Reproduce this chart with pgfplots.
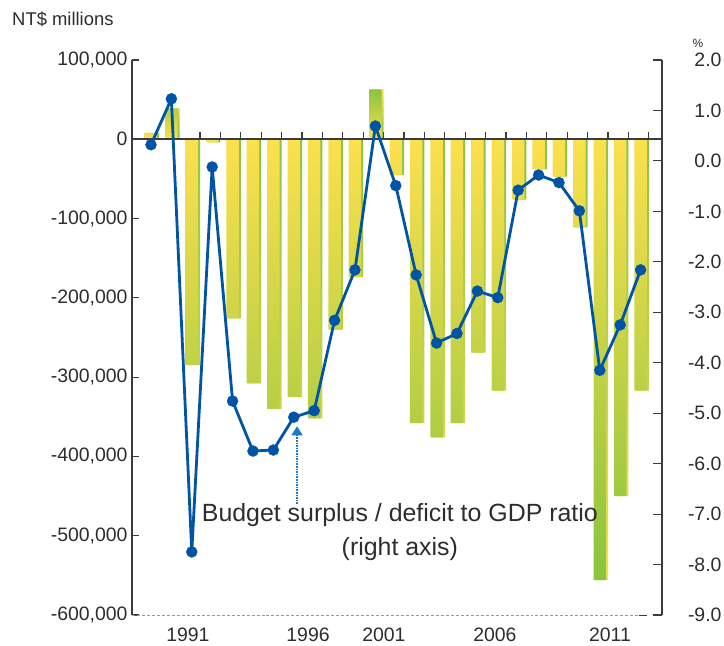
\documentclass[border=0pt]{standalone}
\usepackage{fontspec}
\setmainfont{Liberation Sans}
\usepackage{pgfplots}
\usepackage{pgfplotstable}
\pgfplotsset{compat=1.18}
\usetikzlibrary{arrows.meta}

\definecolor{barYellow}{RGB}{252,224,78}
\definecolor{barGreen}{RGB}{137,196,62}
\definecolor{lineBlue}{RGB}{0,84,166}
\definecolor{arrowBlue}{RGB}{30,120,195}
\definecolor{txt}{RGB}{45,45,45}
\definecolor{spine}{RGB}{60,60,60}

% budget balance, NT$ millions (index 0 = 1989)
\pgfplotstableread{
idx value
0 8000
1 39000
11 63000
}\surplus
\pgfplotstableread{
idx value
2 -285000
3 -4000
4 -226000
5 -308000
6 -340000
7 -325000
8 -352000
9 -240000
10 -174000
12 -45000
13 -358000
14 -376000
15 -358000
16 -269000
17 -317000
18 -76000
19 -38000
20 -47000
21 -111000
22 -556000
23 -450000
24 -317000
}\deficit
% balance to GDP ratio, %
\pgfplotstableread{
idx ratio
0 0.32
1 1.23
2 -7.75
3 -0.12
4 -4.76
5 -5.75
6 -5.73
7 -5.08
8 -4.95
9 -3.16
10 -2.16
11 0.69
12 -0.49
13 -2.26
14 -3.61
15 -3.42
16 -2.58
17 -2.71
18 -0.58
19 -0.28
20 -0.43
21 -0.99
22 -4.15
23 -3.25
24 -2.16
}\ratio

\pgfplotsset{
  base/.style={
    width=530bp, height=555bp, scale only axis,
    xmin=-0.93, xmax=25.05,
    tick label style={font=\fontsize{19.5}{22}\selectfont, text=txt},
    tick align=inside, major tick length=7bp,
  },
  mainbar/.style={ybar, bar width=12.5bp, bar shift=0pt, draw=none},
  sidebar/.style={ybar, bar width=12.5bp, bar shift=2bp, draw=none},
}

\begin{document}
\begin{tikzpicture}
\useasboundingbox (-132bp,-31bp) rectangle (592bp,615bp);

\begin{axis}[base, clip=false,
  axis y line*=left, axis x line*=bottom,
  x axis line style={draw=none},
  y axis line style={spine, line width=1.3bp, -},
  ymin=-600000, ymax=100000,
  scaled y ticks=false,
  ytick={-600000,-500000,-400000,-300000,-200000,-100000,0,100000},
  yticklabels={{-600,000},{-500,000},{-400,000},{-300,000},{-200,000},{-100,000},{0},{100,000}},
  yticklabel style={xshift=-1bp},
  y tick style={spine, line width=1.1bp},
  xtick={1.81,7.70,11.42,16.86,22.5},
  xticklabels={1991,1996,2001,2006,2011},
  x tick style={draw=none},
  xticklabel style={yshift=-9bp},
]
\addplot[sidebar, top color=barGreen, bottom color=barYellow] table[x=idx, y=value] {\deficit};
\addplot[sidebar, top color=barYellow, bottom color=barGreen] table[x=idx, y=value] {\surplus};
\addplot[mainbar, top color=barYellow, middle color=barGreen!70!barYellow, bottom color=barGreen] table[x=idx, y=value] {\deficit};
\addplot[mainbar, top color=barGreen, middle color=barGreen!70!barYellow, bottom color=barYellow] table[x=idx, y=value] {\surplus};
\draw[gray!80, line width=0.7bp, densely dashed] (axis cs:-0.93,-600000) -- (axis cs:23.9,-600000);
\draw[spine, line width=1bp] (axis cs:23.9,-600000) -- (axis cs:24.3,-600000);
\draw[spine, line width=1.6bp] (axis cs:-0.93,0) -- (axis cs:25.05,0);
\pgfplotsinvokeforeach{2.4,3.4,...,24.4}{
  \draw[spine, line width=1.2bp] (axis cs:#1,0) -- ([yshift=7bp]axis cs:#1,0);
}
\end{axis}

\begin{axis}[base,
  axis y line*=right, axis x line=none,
  y axis line style={spine, line width=1.3bp, -},
  y tick style={spine, line width=1.1bp},
  major tick length=9bp,
  ymin=-9, ymax=2,
  ytick={-9,-8,-7,-6,-5,-4,-3,-2,-1,0,1,2},
  yticklabel style={anchor=east, xshift=63bp,
    /pgf/number format/fixed, /pgf/number format/fixed zerofill,
    /pgf/number format/precision=1, /pgf/number format/assume math mode=true},
]
\addplot[lineBlue, line width=2.8bp, mark=*, mark size=5.5bp,
  mark options={fill=lineBlue, draw=lineBlue, line width=0.4bp}] table[x=idx, y=ratio] {\ratio};
\draw[arrowBlue, line width=1.6bp, densely dotted, -{Triangle[width=11bp,length=9bp]}]
  (axis cs:7.16,-6.80) -- (axis cs:7.16,-5.26);
\node[align=center, text=txt, font=\fontsize{25}{34}\selectfont]
  at (axis cs:12.2,-7.36) {Budget surplus / deficit to GDP ratio\\(right axis)};
\end{axis}

\node[anchor=west, inner sep=0pt, text=txt, font=\fontsize{18.5}{20}\selectfont] at (-120bp,596bp) {NT\$ millions};
\node[inner sep=0pt, text=txt, font=\fontsize{12}{14}\selectfont] at (566bp,572bp) {\%};
\end{tikzpicture}
\end{document}
